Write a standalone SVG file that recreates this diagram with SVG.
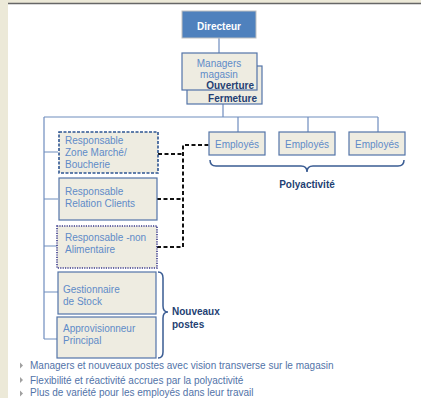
<svg xmlns="http://www.w3.org/2000/svg" width="421" height="398" viewBox="0 0 421 398">
<style>
text{font-family:"Liberation Sans",Arial,sans-serif;font-size:10px}
.box{fill:#EEECE1;stroke:#5374A8;stroke-width:1.2}
.lt{fill:#5F8BC8}
.dk{fill:#243F73;font-weight:bold}
.ln{fill:none;stroke:#6F8DBE;stroke-width:1.2}
.dash{fill:none;stroke:#111;stroke-width:2;stroke-dasharray:4 2.5}
.bul{fill:#5273A8;font-size:10px}
.tri{fill:#A0A0A0}
</style>
<rect x="0" y="0" width="421" height="398" fill="#fff"/>
<rect x="0" y="0" width="421" height="3" fill="#ECE9D8"/>
<rect x="0" y="0" width="8" height="398" fill="#ECE9D8"/>
<line x1="8" y1="3.5" x2="421" y2="3.5" stroke="#666" stroke-width="1.3"/>

<g id="connectors">
<path class="ln" d="M219,38V53M223,104V117M44,117H378M238,117V132M308,117V132M378,117V132"/>
<path class="ln" d="M44,117V339M44,152H58M44,199H58M44,246H57M44,292H58M44,339H57"/>
<path class="dash" d="M158,154H183M157,199H183M157,247H183M183,247V145H209"/>
</g>

<g id="directeur">
<rect x="182" y="11" width="74" height="27" fill="#4F81BD" stroke="#BFBFBF" stroke-width="1"/>
<text x="219" y="30" text-anchor="middle" font-weight="bold" fill="#fff">Directeur</text>
</g>

<g id="managers">
<rect class="box" x="187" y="66" width="75" height="38"/>
<text class="dk" x="257" y="102" text-anchor="end">Fermeture</text>
<rect class="box" x="182" y="53" width="75" height="37"/>
<text class="lt" x="219" y="67" text-anchor="middle">Managers</text>
<text class="lt" x="219" y="78" text-anchor="middle">magasin</text>
<text class="dk" x="254" y="89" text-anchor="end">Ouverture</text>
</g>

<g id="employes1">
<rect class="box" x="209" y="132" width="56" height="23"/>
<text class="lt" x="237" y="148" text-anchor="middle">Employés</text>
</g>
<g id="employes2">
<rect class="box" x="279" y="132" width="56" height="23"/>
<text class="lt" x="307" y="148" text-anchor="middle">Employés</text>
</g>
<g id="employes3">
<rect class="box" x="349" y="132" width="56" height="23"/>
<text class="lt" x="377" y="148" text-anchor="middle">Employés</text>
</g>

<g id="polyactivite">
<path d="M210,160Q210,166 216,166H301Q307,166 307,172Q307,166 313,166H398Q404,166 404,160" fill="none" stroke="#3A5C93" stroke-width="1.5"/>
<text class="dk" x="307" y="188" text-anchor="middle">Polyactivité</text>
</g>

<g id="resp-zone">
<rect x="59" y="132" width="99" height="41" fill="#EEECE1" stroke="#2E5592" stroke-width="1.6" stroke-dasharray="3 1.5"/>
<text class="lt" x="65" y="144">Responsable</text>
<text class="lt" x="65" y="156">Zone Marché/</text>
<text class="lt" x="65" y="168">Boucherie</text>
</g>

<g id="resp-relation">
<rect class="box" x="59" y="178" width="98" height="42"/>
<text class="lt" x="65" y="195">Responsable</text>
<text class="lt" x="65" y="207">Relation Clients</text>
</g>

<g id="resp-nonalim">
<rect x="57" y="226" width="100" height="42" fill="#EEECE1" stroke="#3A3A8C" stroke-width="1.6" stroke-dasharray="1.2 1.2"/>
<text class="lt" x="65" y="241">Responsable  -non</text>
<text class="lt" x="65" y="253">Alimentaire</text>
</g>

<g id="gestionnaire">
<rect class="box" x="58" y="272" width="98" height="42"/>
<text class="lt" x="63" y="293">Gestionnaire</text>
<text class="lt" x="63" y="305"> de Stock</text>
</g>

<g id="approvisionneur">
<rect class="box" x="57" y="317" width="99" height="41"/>
<text class="lt" x="63" y="332">Approvisionneur</text>
<text class="lt" x="63" y="344"> Principal</text>
</g>

<g id="nouveaux-postes">
<path d="M158,272Q163,272 163,278V306Q163,312 168,312Q163,312 163,318V352Q163,358 158,358" fill="none" stroke="#3A5C93" stroke-width="1.5"/>
<text class="dk" x="172" y="315">Nouveaux</text>
<text class="dk" x="172" y="328">postes</text>
</g>

<g id="bullets">
<path class="tri" d="M20,362.5L23,365.5L20,368.5Z"/>
<text class="bul" x="30" y="369">Managers et nouveaux postes avec vision transverse sur le magasin</text>
<path class="tri" d="M20,377L23,380L20,383Z"/>
<text class="bul" x="30" y="383.5">Flexibilité et réactivité accrues par la polyactivité</text>
<path class="tri" d="M20,390.5L23,393.5L20,396.5Z"/>
<text class="bul" x="30" y="396">Plus de variété pour les employés dans leur travail</text>
</g>
</svg>
